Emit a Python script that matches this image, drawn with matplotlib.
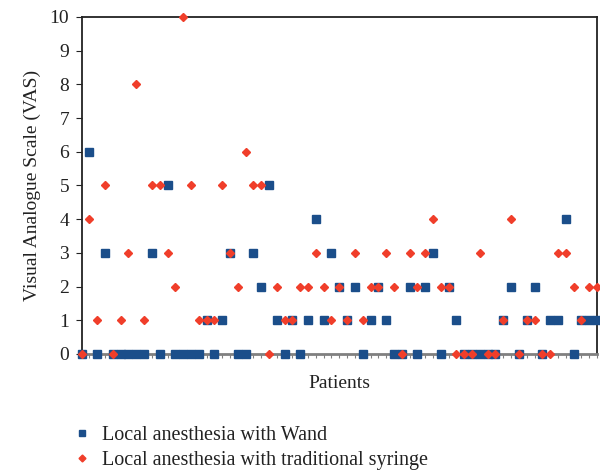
import matplotlib
matplotlib.use("Agg")
import matplotlib.pyplot as plt
from matplotlib.lines import Line2D

plt.rcParams['font.family'] = ['Liberation Serif', 'DejaVu Serif']

patients = list(range(67))
wand = [0, 6, 0, 3, 0, 0, 0, 0, 0, 3, 0, 5, 0, 0, 0, 0, 1, 0, 1, 3,
        0, 0, 3, 2, 5, 1, 0, 1, 0, 1, 4, 1, 3, 2, 1, 2, 0, 1, 2, 1,
        0, 0, 2, 0, 2, 3, 0, 2, 1, 0, 0, 0, 0, 0, 1, 2, 0, 1, 2, 0,
        1, 1, 4, 0, 1, 1, 1]
syringe = [0, 4, 1, 5, 0, 1, 3, 8, 1, 5, 5, 3, 2, 10, 5, 1, 1, 1, 5, 3,
           2, 6, 5, 5, 0, 2, 1, 1, 2, 2, 3, 2, 1, 2, 1, 3, 1, 2, 2, 3,
           2, 0, 3, 2, 3, 4, 2, 2, 0, 0, 0, 3, 0, 0, 1, 4, 0, 1, 1, 0,
           0, 3, 3, 2, 1, 2, 2]
yticks = list(range(11))
labels = ['Local anesthesia with Wand', 'Local anesthesia with traditional syringe']

blue = '#1B4E8A'
red = '#F03E2A'
txt = '#222222'

fig = plt.figure(figsize=(6, 4.7), dpi=100)
ax = fig.add_axes([0.136, 0.247, 0.859, 0.717])

ax.plot(patients, wand, linestyle='none', marker='s', ms=5.2, color=blue,
        clip_on=False, zorder=3)
ax.plot(patients, syringe, linestyle='none', marker='D', ms=4, color=red,
        markeredgecolor=red, clip_on=False, zorder=4)

ax.set_xlim(0, 66)
ax.set_ylim(0, 10)
ax.set_yticks(yticks)
ax.set_xticks(patients)
ax.set_xticklabels([])
ax.tick_params(axis='x', length=3, color='#808080', direction='out')
ax.tick_params(axis='y', length=4, pad=5, labelsize=14, colors=txt)
for s in ['top', 'right', 'left']:
    ax.spines[s].set_color(txt)
    ax.spines[s].set_linewidth(1.3)
ax.spines['bottom'].set_color('#808080')
ax.spines['bottom'].set_linewidth(2)

ax.set_ylabel('Visual Analogue Scale (VAS)', fontsize=14, color=txt, labelpad=6)
ax.set_xlabel('Patients', fontsize=14, color=txt, labelpad=9)

handles = [Line2D([], [], linestyle='none', marker='s', ms=4.5, color=blue),
           Line2D([], [], linestyle='none', marker='D', ms=3.5, color=red)]
fig.legend(handles, labels, loc='upper left', bbox_to_anchor=(0.086, 0.132),
           frameon=False, fontsize=14.5, handletextpad=0.4, labelspacing=0.3,
           handlelength=1.2, borderpad=0.4, labelcolor=txt)

fig.savefig('out.png', dpi=100)
